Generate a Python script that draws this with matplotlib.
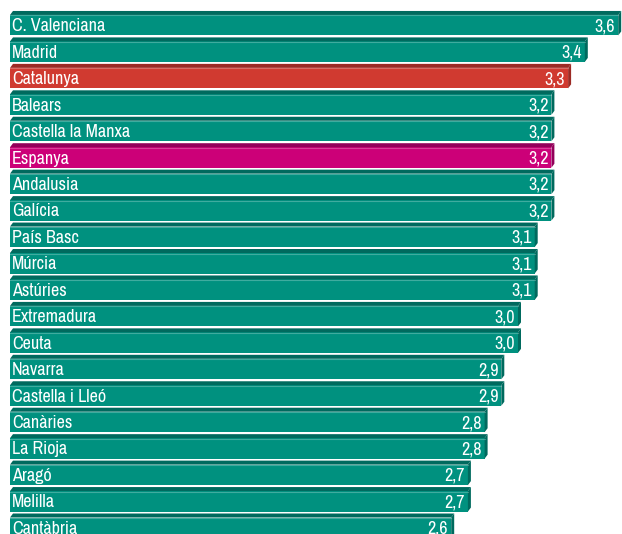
import matplotlib.pyplot as plt
from matplotlib import font_manager
from matplotlib.patches import Polygon

regions = ["C. Valenciana", "Madrid", "Catalunya", "Balears", "Castella la Manxa",
           "Espanya", "Andalusia", "Galícia", "País Basc", "Múrcia", "Astúries",
           "Extremadura", "Ceuta", "Navarra", "Castella i Lleó", "Canàries",
           "La Rioja", "Aragó", "Melilla", "Cantàbria"]
values = [3.6, 3.4, 3.3, 3.2, 3.2, 3.2, 3.2, 3.2, 3.1, 3.1, 3.1,
          3.0, 3.0, 2.9, 2.9, 2.8, 2.8, 2.7, 2.7, 2.6]

# colors: (front, top/side)
teal = ("#00917f", "#006a5e")
red = ("#d03a30", "#9c2a24")
magenta = ("#cc0078", "#93005a")
special = {"Catalunya": red, "Espanya": magenta}


def pick_font():
    # look for a narrow / condensed sans face, else Roboto
    narrow = []
    for f in font_manager.fontManager.ttflist:
        nm = f.name.lower()
        if f.style != "normal" or "mono" in nm or ("serif" in nm and "sans" not in nm):
            continue
        if f.weight not in (400, "normal", "regular"):
            continue
        st = str(f.stretch).lower()
        if "narrow" in nm or "condensed" in nm or "condensed" in st:
            narrow.append(f)
    narrow.sort(key=lambda f: ("narrow" not in f.name.lower(), f.name))
    if narrow:
        return font_manager.FontProperties(fname=narrow[0].fname), True
    return font_manager.FontProperties(family="Roboto"), False


fp, is_narrow = pick_font()
fs = 13 if is_narrow else 12

fig = plt.figure(figsize=(6.22, 5.34), dpi=100)
ax = fig.add_axes([0, 0, 1, 1])
ax.set_xlim(-17 / 167, 605 / 167)
ax.set_ylim(19.236, -0.953)
ax.axis("off")

base = -7 / 167        # bars start slightly left of zero
h = 0.775              # front face height
dx = 3 / 167           # depth offset (x)
dy = 4 / 26.45         # depth offset (y)

for i, (name, v) in enumerate(zip(regions, values)):
    front, dark = special.get(name, teal)
    ax.barh(i, v - base, left=base, height=h, color=front, zorder=2)
    y0 = i - h / 2
    y1 = i + h / 2
    top = Polygon([(base, y0), (v, y0), (v + dx, y0 - dy), (base + dx, y0 - dy)],
                  closed=True, facecolor=dark, edgecolor="none", zorder=2)
    side = Polygon([(v, y0), (v + dx, y0 - dy), (v + dx, y1 - dy), (v, y1)],
                   closed=True, facecolor=dark, edgecolor="none", zorder=2)
    ax.add_patch(top)
    ax.add_patch(side)
    # thin light edge along the top of the front face
    ax.plot([base, v], [y0 + 0.02, y0 + 0.02], color="white", alpha=0.25,
            lw=0.8, zorder=2.5)
    ax.text(base + 2 / 167, i + 0.23, name, color="white", fontproperties=fp,
            fontsize=fs, va="baseline", ha="left", zorder=3)
    ax.text(v - 3 / 167, i + 0.23, f"{v:.1f}".replace(".", ","), color="white",
            fontproperties=fp, fontsize=fs, va="baseline", ha="right", zorder=3)

fig.savefig("out.png", dpi=100)
